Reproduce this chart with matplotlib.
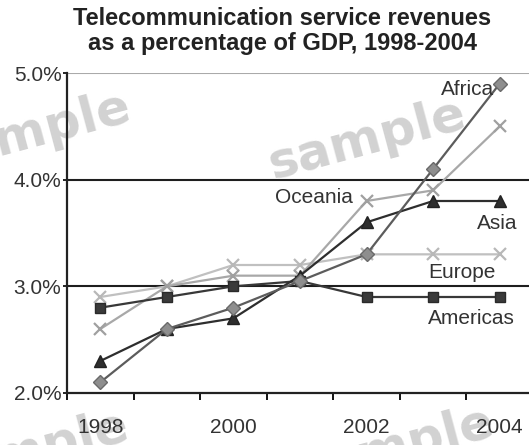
import matplotlib
matplotlib.use("Agg")
import matplotlib.pyplot as plt

# Telecom service revenues as % of GDP by region
years = [1998, 1999, 2000, 2001, 2002, 2003, 2004]
africa = [2.1, 2.6, 2.8, 3.05, 3.3, 4.1, 4.9]
oceania = [2.6, 3.0, 3.1, 3.1, 3.8, 3.9, 4.5]
asia = [2.3, 2.6, 2.7, 3.1, 3.6, 3.8, 3.8]
europe = [2.9, 3.0, 3.2, 3.2, 3.3, 3.3, 3.3]
americas = [2.8, 2.9, 3.0, 3.05, 2.9, 2.9, 2.9]

y_ticks = [2.0, 3.0, 4.0, 5.0]
x_labels = ["1998", "2000", "2002", "2004"]

plt.rcParams["font.family"] = ["Liberation Sans", "DejaVu Sans"]

fig = plt.figure(figsize=(5.29, 4.45), dpi=100)
W, H = 529, 445
ax = fig.add_axes([67 / W, 52 / H, 466 / W, 320 / H])
ax.set_facecolor("none")

x = list(range(len(years)))

series = [
    (europe, dict(color="#c0c0c0", marker="x", ms=9, mew=1.6, mec="#b8b8b8")),
    (oceania, dict(color="#a8a8a8", marker="x", ms=9, mew=1.6, mec="#a0a0a0")),
    (americas, dict(color="#383838", marker="s", ms=7, mfc="#3a3a3a", mec="#2a2a2a")),
    (asia, dict(color="#2e2e2e", marker="^", ms=8, mfc="#2e2e2e", mec="#222222")),
    (africa, dict(color="#5c5c5c", marker="D", ms=7, mfc="#8e8e8e", mec="#6a6a6a")),
]
for vals, st in series:
    ax.plot(x, vals, lw=1.6, zorder=3, clip_on=False, **st)

# horizontal reference lines
for v in y_ticks[1:]:
    ax.axhline(v, color="#aaaaaa" if v == y_ticks[-1] else "#1e1e1e",
               lw=1.5, zorder=2)

ax.set_xlim(-0.5, len(years) - 0.5)
ax.set_ylim(y_ticks[0], y_ticks[-1])

ax.set_yticks(y_ticks)
ax.set_yticklabels([f"{v:.1f}%" for v in y_ticks], fontsize=15, color="#333333")
ax.tick_params(axis="y", length=3, width=1.2, pad=1)

ax.set_xticks([years.index(int(s)) for s in x_labels])
ax.set_xticklabels(x_labels, fontsize=15, color="#333333")
ax.set_xticks([i - 0.5 for i in range(len(years) + 1)], minor=True)
ax.tick_params(axis="x", which="major", length=0, pad=18)
ax.tick_params(axis="x", which="minor", length=5, width=1.3, direction="out")

for s in ["top", "right"]:
    ax.spines[s].set_visible(False)
for s in ["left", "bottom"]:
    ax.spines[s].set_linewidth(1.6)
    ax.spines[s].set_color("#222222")

# series names
lab = dict(fontsize=15, color="#333333", ha="center", va="center", zorder=4)
ax.text(5.52, 4.85, "Africa", **lab)
ax.text(3.21, 3.83, "Oceania", **lab)
ax.text(5.96, 3.59, "Asia", **lab)
ax.text(5.44, 3.13, "Europe", **lab)
ax.text(5.58, 2.70, "Americas", **lab)

fig.text(282 / W, 1 - 31 / H,
         "Telecommunication service revenues\nas a percentage of GDP, 1998-2004",
         ha="center", va="center", fontsize=17, fontweight="bold",
         linespacing=1.15, color="#222222")

# watermark
wm = dict(fontsize=36, fontweight="bold", color="#d2d2d2", family="DejaVu Sans",
          ha="center", va="center", rotation=15, zorder=-1)
fig.text(32 / W, 1 - 133 / H, "sample", **wm)
fig.text(367 / W, 1 - 140 / H, "sample", **wm)
fig.text(30 / W, 1 - 452 / H, "sample", **wm)
fig.text(395 / W, 1 - 448 / H, "sample", **wm)

fig.savefig("out.png", dpi=100)
